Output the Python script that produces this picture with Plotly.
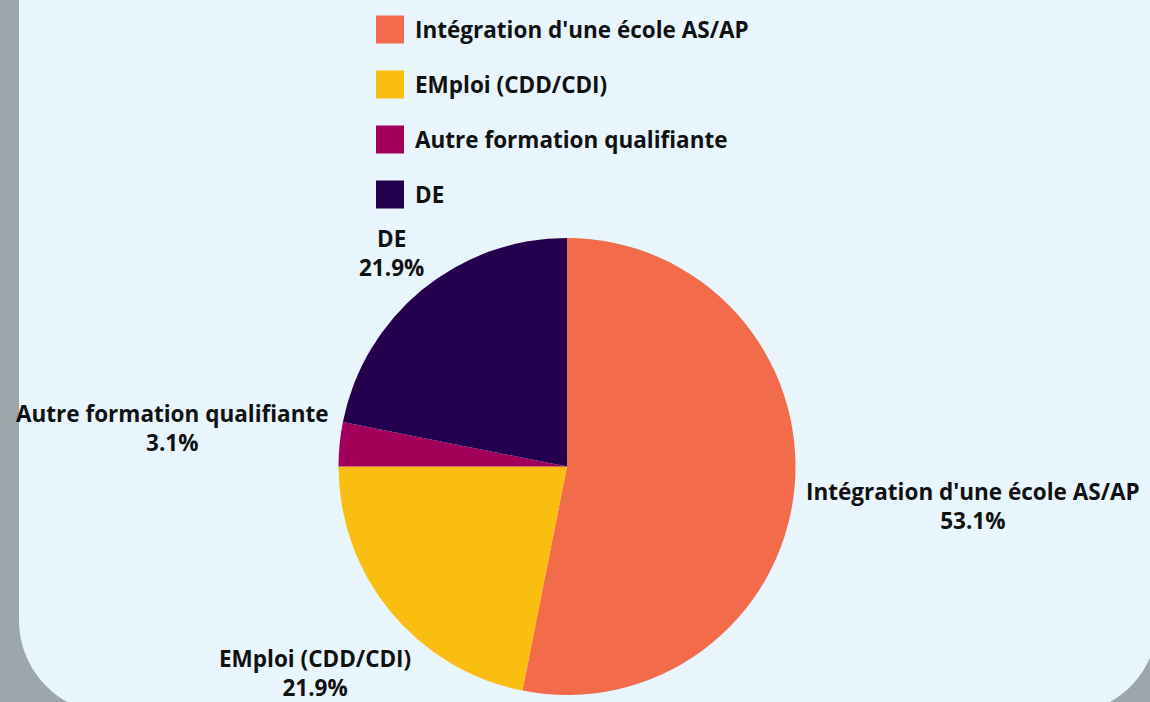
import math
import plotly.graph_objects as go

# ---- data ----
categories = ["Intégration d'une école AS/AP", "EMploi (CDD/CDI)",
              "Autre formation qualifiante", "DE"]
values = [17, 7, 1, 7]
colors = ["#F26B4A", "#F9BE10", "#A0005A", "#22004E"]

W, H = 1150, 702
FONT = "Open Sans"
FS = 22.5
TXT = "#111111"

def px(x):
    return x / W

def py(y):
    return 1 - y / H

fig = go.Figure()

# pie centre (567, 466.5) radius 228.5 px
cx, cy, r = 567, 466.5, 228.5
fig.add_trace(go.Pie(
    labels=categories,
    values=values,
    marker=dict(colors=colors, line=dict(width=0)),
    sort=False,
    direction="clockwise",
    rotation=0,
    textinfo="none",
    domain=dict(x=[px(cx - r), px(cx + r)], y=[py(cy + r), py(cy - r)]),
    showlegend=False,
    hoverinfo="label+percent",
))

annotations = []

# ---- outside slice labels, centred on each slice's mid-angle ray ----
total = sum(values)
cum = 0
gap = 10
char_w = 0.513 * FS     # approximate average glyph width
half_h = 25             # approximate half height of a 2-line label
for name, v in zip(categories, values):
    mid = (cum + v / 2) / total * 2 * math.pi
    cum += v
    ux, uy = math.sin(mid), -math.cos(mid)   # screen direction (y down)
    pct = f"{v / total * 100:.1f}%"
    w = char_w * max(len(name), len(pct))
    d = r + gap + abs(ux) * w / 2 + abs(uy) * half_h
    lx, ly = cx + ux * d, cy + uy * d
    annotations.append(dict(xref="paper", yref="paper", x=px(lx), y=py(ly),
                            xanchor="center", yanchor="middle", showarrow=False,
                            align="center", text=f"{name}<br>{pct}",
                            font=dict(family=FONT, size=FS, color=TXT, weight="bold")))

# ---- panel (rounded rectangle) ----
L, R, B, T, rad = 19, 1158, 714, -50, 94
k = 0.5523 * rad
path = (
    f"M {px(L)},{py(T)} "
    f"L {px(L)},{py(B - rad)} "
    f"C {px(L)},{py(B - rad + k)} {px(L + rad - k)},{py(B)} {px(L + rad)},{py(B)} "
    f"L {px(R - rad)},{py(B)} "
    f"C {px(R - rad + k)},{py(B)} {px(R)},{py(B - rad + k)} {px(R)},{py(B - rad)} "
    f"L {px(R)},{py(T)} Z"
)
shapes = [dict(type="path", xref="paper", yref="paper", path=path,
               fillcolor="#E8F5FC", line=dict(width=0), layer="below")]

# ---- manual legend ----
sq_x0, sq_size, y0, step = 376, 28, 15.5, 55
for i, (name, col) in enumerate(zip(categories, colors)):
    top = y0 + i * step
    shapes.append(dict(type="rect", xref="paper", yref="paper",
                       x0=px(sq_x0), x1=px(sq_x0 + sq_size),
                       y0=py(top + sq_size), y1=py(top),
                       fillcolor=col, line=dict(width=0), layer="above"))
    annotations.append(dict(xref="paper", yref="paper",
                            x=px(413), y=py(top + sq_size / 2),
                            xanchor="left", yanchor="middle", showarrow=False,
                            text=name,
                            font=dict(family=FONT, size=FS, color=TXT, weight="bold")))

fig.update_layout(
    width=W, height=H,
    margin=dict(l=0, r=0, t=0, b=0),
    paper_bgcolor="#9CA7AC",
    plot_bgcolor="#9CA7AC",
    shapes=shapes,
    annotations=annotations,
    showlegend=False,
)

fig.write_html(
    "out.html",
    config={"displayModeBar": False},
    post_script="document.body.style.margin='0';document.body.style.overflow='hidden';",
)
